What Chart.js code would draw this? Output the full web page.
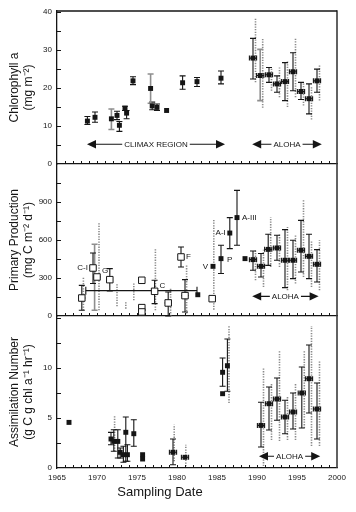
<!DOCTYPE html>
<html>
<head>
<meta charset="utf-8">
<script src="https://cdn.jsdelivr.net/npm/chart.js@4.4.1/dist/chart.umd.min.js"></script>
<style>
  html, body { margin: 0; padding: 0; background: #fff; }
  #wrap { position: relative; width: 356px; height: 512px; }
  #wrap canvas { position: absolute; left: 0; top: 0; }
</style>
</head>
<body>
<div id="wrap">
  <canvas id="c1" width="356" height="512"></canvas>
  <canvas id="c2" width="356" height="512"></canvas>
  <canvas id="c3" width="356" height="512"></canvas>
</div>
<script>
// ================= DATA =================
// --- Panel 1: Chlorophyll a (mg m-2) ---
const chlClimaxYear = [1968.8, 1969.75, 1971.8, 1972.5, 1972.8, 1973.5, 1973.7, 1974.5, 1976.7, 1976.9, 1977.5, 1978.7, 1980.7, 1982.5, 1985.5];
const chlClimax     = [11.3, 12.3, 11.9, 12.8, 10.2, 14.7, 13.4, 21.9, 19.9, 15.3, 14.9, 14.1, 21.4, 21.7, 22.6];
const chlClimaxLo   = [10.4, 11.0, null, 11.7, 8.6, 14.1, 11.9, 20.9, null, 14.3, 14.1, null, 19.7, 20.4, 21.1];
const chlClimaxHi   = [12.5, 13.7, null, 13.9, 11.2, 15.2, 14.1, 23.0, null, 16.3, 15.8, null, 23.2, 22.8, 24.5];
const chlGrayYear   = [1971.8, 1976.7, 1990.4];
const chlGrayLo     = [9.1, 16.0, 16.7];
const chlGrayHi     = [14.5, 23.7, 30.2];
const chlAlohaYear  = [1989.5, 1990.4, 1991.5, 1992.5, 1993.5, 1994.5, 1995.5, 1996.5, 1997.5];
const chlAloha      = [27.9, 23.3, 23.5, 21.1, 21.7, 24.3, 19.1, 17.2, 21.9];
const chlAlohaLo    = [22.4, null, 21.5, 18.9, 16.7, 19.3, 17.0, 13.2, 18.9];
const chlAlohaHi    = [33.1, null, 25.4, 23.2, 26.7, 29.3, 21.5, 21.1, 25.0];
const chlAlohaDotLo = [21.5, 14.8, 19.3, 17.6, 15.0, 17.6, 15.4, 11.7, 16.7];
const chlAlohaDotHi = [38.6, 33.1, 25.4, 25.4, 27.2, 33.2, 21.5, 20.2, 26.3];
const chlArrowFrom  = [1968.75, 1989.4];
const chlArrowTo    = [1986.0, 1998.1];
const chlArrowAt    = [5.2, 5.2];
const chlArrowText  = ['CLIMAX REGION', 'ALOHA'];
const chlTickLabels = [0, 10, 20, 30, 40];

// --- Panel 2: Primary Production (mg C m-2 d-1) ---
const ppOpenYear  = [1968.1, 1969.5, 1970.0, 1971.6, 1975.6, 1975.6, 1975.6, 1977.2, 1978.9, 1980.5, 1981.0, 1984.4];
const ppOpen      = [142, 379, 308, 287, 282, 66, 32, 195, 103, 466, 161, 137];
const ppOpenLo    = [45, 256, null, 197, null, null, null, 98, 0, 387, 32, null];
const ppOpenHi    = [242, 497, null, 374, null, null, null, 282, 190, 545, 287, null];
const ppOpenLabel = ['', 'C-I', 'G', '', '', '', '', 'C', '', 'F', '', ''];
const ppOpenHYear = [1968.1, 1970.0, 1978.9, 1981.0];
const ppOpenHVal  = [142, 308, 103, 161];
const ppGrayYear  = [1969.7];
const ppGrayLo    = [45];
const ppGrayHi    = [566];
const ppDotYear   = [1968.3, 1970.25, 1972.5, 1973.6, 1974.6, 1977.3, 1979.2, 1981.2, 1984.6];
const ppDotLo     = [45, 45, 77, 58, 124, 45, 0, 19, 50];
const ppDotHi     = [308, 742, 250, 110, 256, 532, 216, 400, 761];
const ppFilledYear  = [1982.6, 1984.5, 1985.5, 1986.6, 1987.5];
const ppFilled      = [168, 392, 453, 655, 777];
const ppFilledLo    = [null, null, 335, 532, 558];
const ppFilledHi    = [null, null, 558, 777, 992];
const ppFilledLabel = ['', 'V', 'P', 'A-I', 'A-III'];
const ppMeanFrom = [1968.6];
const ppMeanTo   = [1982.5];
const ppMean     = [200];
const ppAlohaYear  = [1988.5, 1989.5, 1990.5, 1991.4, 1992.5, 1993.5, 1994.5, 1995.5, 1996.5, 1997.5];
const ppAloha      = [453, 445, 392, 526, 537, 440, 440, 519, 471, 408];
const ppAlohaLo    = [null, 361, 308, 400, 440, 224, 295, 347, 295, 268];
const ppAlohaHi    = [null, 513, 493, 645, 637, 682, 598, 755, 645, 524];
const ppAlohaDotLo = [null, 282, 229, 387, 387, 203, 256, 308, 229, 203];
const ppAlohaDotHi = [null, 519, 524, 782, 650, 703, 637, 913, 598, 598];
const ppArrowFrom = [1989.4];
const ppArrowTo   = [1997.7];
const ppArrowAt   = [155];
const ppArrowText = ['ALOHA'];
const ppTickLabels = [0, 300, 600, 900];

// --- Panel 3: Assimilation Number (g C g chl a-1 hr-1) ---
const anHistYear = [1966.5, 1971.75, 1972.1, 1972.6, 1972.9, 1973.3, 1973.6, 1973.8, 1974.6, 1975.7, 1975.7, 1979.5, 1981.0, 1985.7, 1985.7, 1986.3];
const anHist     = [4.56, 2.9, 2.66, 2.66, 1.57, 1.33, 3.57, 1.33, 3.43, 1.33, 0.9, 1.57, 1.07, 9.57, 7.43, 10.23];
const anHistLo   = [null, 2.33, 1.67, 1.0, 1.0, 0.57, 0.67, 0.67, 2.17, null, null, 0.33, null, 8.17, null, 7.67];
const anHistHi   = [null, 3.56, 3.83, 3.83, 2.0, 2.17, 5.1, 2.33, 4.83, null, null, 2.9, null, 11.0, null, 12.9];
const anHistHYear = [1979.5, 1981.0];
const anHistHVal  = [1.57, 1.07];
const anDotYear = [1972.2, 1979.65, 1981.1, 1986.5];
const anDotLo   = [1.67, 0.67, 0.17, 6.5];
const anDotHi   = [5.2, 4.33, 2.33, 14.2];
const anAlohaYear  = [1990.5, 1991.5, 1992.5, 1993.5, 1994.5, 1995.6, 1996.5, 1997.5];
const anAloha      = [4.26, 6.43, 6.9, 5.1, 5.6, 7.5, 8.93, 5.9];
const anAlohaLo    = [2.1, 3.8, 4.77, 3.43, 3.9, 4.0, 5.5, 2.9];
const anAlohaHi    = [6.57, 8.1, 9.0, 6.77, 7.5, 10.1, 12.3, 8.5];
const anAlohaDotLo = [0.2, 2.8, 2.7, 2.8, 2.8, 4.0, 2.2, 2.2];
const anAlohaDotHi = [10.0, 8.5, 11.8, 7.17, 8.4, 11.8, 14.2, 10.7];
const anArrowFrom = [1990.25];
const anArrowTo   = [1997.9];
const anArrowAt   = [1.17];
const anArrowText = ['ALOHA'];
const anTickLabels = [0, 5, 10];

const yearTickLabels = [1965, 1970, 1975, 1980, 1985, 1990, 1995, 2000];

// ================= STYLE =================
const FONT = "'Liberation Sans', Arial, Helvetica, sans-serif";
const INK = '#151515';
const GRAY = '#8e8e8e';
const DOT = '#8a8a8a';
const HALF_YEAR_BAR = 0.45;
const LABEL_POS = {
  'C-I':  { align: 'right', dx: -5, dy: 0 },
  'G':    { align: 'left',  dx: 5,  dy: -6 },
  'C':    { align: 'left',  dx: 5,  dy: -6 },
  'F':    { align: 'left',  dx: 5,  dy: 0 },
  'V':    { align: 'right', dx: -5, dy: 0 },
  'P':    { align: 'left',  dx: 6,  dy: 1 },
  'A-I':  { align: 'right', dx: -4, dy: 0 },
  'A-III':{ align: 'left',  dx: 5,  dy: 0 }
};
const pts = (xs, ys) => xs.map((x, i) => ({ x, y: ys[i] }));
const minus = (xs, d) => xs.map(v => v - d);
const plus = (xs, d) => xs.map(v => v + d);

const filledStyle = { pointStyle: 'rect', pointRadius: 3.5, backgroundColor: INK, borderColor: INK, borderWidth: 0 };
const openStyle = { pointStyle: 'rect', pointRadius: 4.6, backgroundColor: '#fff', borderColor: INK, borderWidth: 1 };
const blackBar = { color: INK, width: 1.1, cap: 3 };
const grayBar = { color: GRAY, width: 1.6, cap: 3 };
const dotBar = { color: DOT, width: 1.6, dash: [1.3, 1.3] };

// ================= PANEL DECOR PLUGIN =================
const PANELS = {};
const panelPlugin = {
  id: 'panelDecor',
  beforeDatasetsDraw(chart) {
    const p = PANELS[chart.canvas.id]; if (!p) return;
    const ctx = chart.ctx, xs = chart.scales.x, ys = chart.scales.y, a = chart.chartArea;
    ctx.save();
    ctx.beginPath(); ctx.rect(a.left, a.top - 1, a.right - a.left, a.bottom - a.top + 2); ctx.clip();
    ctx.lineCap = 'butt';
    for (const b of (p.bars || [])) {
      ctx.strokeStyle = b.color; ctx.lineWidth = b.width;
      b.x.forEach((xv, i) => {
        const lo = b.lo[i], hi = b.hi[i];
        if (lo == null || hi == null) return;
        const x = xs.getPixelForValue(xv) + (b.dx || 0);
        const y1 = ys.getPixelForValue(lo), y2 = ys.getPixelForValue(hi);
        ctx.setLineDash(b.dash || []);
        ctx.beginPath(); ctx.moveTo(x, y1); ctx.lineTo(x, y2); ctx.stroke();
        if (b.cap) {
          ctx.setLineDash([]);
          ctx.beginPath();
          ctx.moveTo(x - b.cap, y1); ctx.lineTo(x + b.cap, y1);
          ctx.moveTo(x - b.cap, y2); ctx.lineTo(x + b.cap, y2);
          ctx.stroke();
        }
      });
    }
    ctx.setLineDash([]);
    for (const h of (p.hbars || [])) {
      ctx.strokeStyle = INK; ctx.lineWidth = 1.1;
      h.from.forEach((f, i) => {
        const y = ys.getPixelForValue(h.y[i]);
        const x1 = xs.getPixelForValue(f), x2 = xs.getPixelForValue(h.to[i]);
        ctx.beginPath();
        if (!h.capsOnly) { ctx.moveTo(x1, y); ctx.lineTo(x2, y); }
        ctx.moveTo(x1, y - h.cap); ctx.lineTo(x1, y + h.cap);
        ctx.moveTo(x2, y - h.cap); ctx.lineTo(x2, y + h.cap);
        ctx.stroke();
      });
    }
    ctx.restore();
  },
  afterDatasetsDraw(chart) {
    const p = PANELS[chart.canvas.id]; if (!p) return;
    const ctx = chart.ctx, xs = chart.scales.x, ys = chart.scales.y;
    ctx.save();
    for (const ar of (p.arrows || [])) {
      ar.from.forEach((f, i) => {
        const x1 = xs.getPixelForValue(f), x2 = xs.getPixelForValue(ar.to[i]);
        const y = ys.getPixelForValue(ar.at[i]);
        const L = 9, H = 4.2;
        ctx.font = '8px ' + FONT;
        const tw = ctx.measureText(ar.text[i]).width;
        const mid = (x1 + x2) / 2;
        ctx.strokeStyle = INK; ctx.fillStyle = INK; ctx.lineWidth = 1.1;
        ctx.beginPath();
        ctx.moveTo(x1 + L - 1, y); ctx.lineTo(mid - tw / 2 - 2, y);
        ctx.moveTo(mid + tw / 2 + 2, y); ctx.lineTo(x2 - L + 1, y);
        ctx.stroke();
        ctx.beginPath(); ctx.moveTo(x1, y); ctx.lineTo(x1 + L, y - H); ctx.lineTo(x1 + L, y + H); ctx.closePath(); ctx.fill();
        ctx.beginPath(); ctx.moveTo(x2, y); ctx.lineTo(x2 - L, y - H); ctx.lineTo(x2 - L, y + H); ctx.closePath(); ctx.fill();
        ctx.textAlign = 'center'; ctx.textBaseline = 'middle';
        ctx.fillText(ar.text[i], mid, y + 0.5);
      });
    }
    for (const lb of (p.labels || [])) {
      ctx.font = '8px ' + FONT; ctx.fillStyle = INK; ctx.textBaseline = 'middle';
      lb.text.forEach((t, i) => {
        if (!t) return;
        const pos = LABEL_POS[t] || { align: 'left', dx: 5, dy: 0 };
        ctx.textAlign = pos.align;
        ctx.fillText(t, xs.getPixelForValue(lb.x[i]) + pos.dx, ys.getPixelForValue(lb.y[i]) + pos.dy);
      });
    }
    ctx.restore();
  },
  afterDraw(chart) {
    const p = PANELS[chart.canvas.id]; if (!p) return;
    const ctx = chart.ctx, xs = chart.scales.x, ys = chart.scales.y, a = chart.chartArea;
    ctx.save();
    ctx.strokeStyle = INK; ctx.lineWidth = 1;
    ctx.beginPath();
    for (let yr = 1966; yr < 2000; yr++) {
      const x = Math.round(xs.getPixelForValue(yr)) + 0.5;
      ctx.moveTo(x, a.bottom); ctx.lineTo(x, a.bottom - 3);
    }
    for (let v = p.yMinor; v < ys.max - 1e-6; v += p.yMinor) {
      const y = Math.round(ys.getPixelForValue(v)) + 0.5;
      ctx.moveTo(a.left, y); ctx.lineTo(a.left + 4, y);
    }
    ctx.stroke();
    ctx.strokeStyle = '#3a3a3a'; ctx.lineWidth = 1.6;
    ctx.beginPath(); ctx.moveTo(a.right, a.top - (p.topBorder ? 0.8 : 0)); ctx.lineTo(a.right, a.bottom); ctx.stroke();
    if (p.topBorder) {
      ctx.strokeStyle = INK; ctx.lineWidth = 1.4;
      ctx.beginPath(); ctx.moveTo(a.left, a.top); ctx.lineTo(a.right, a.top); ctx.stroke();
    }
    if (p.xTitle) {
      ctx.font = '13px ' + FONT; ctx.fillStyle = INK; ctx.textAlign = 'center'; ctx.textBaseline = 'middle';
      ctx.fillText(p.xTitle, p.xTitleX, p.xTitleY);
    }
    ctx.restore();
  }
};

function makeChart(id, o) {
  PANELS[id] = o.panel;
  return new Chart(document.getElementById(id), {
    type: 'scatter',
    data: { datasets: o.datasets },
    options: {
      responsive: false, animation: false, events: [],
      layout: { padding: { top: o.top, bottom: o.bottom, left: 0, right: 19 } },
      plugins: { legend: { display: false }, tooltip: { enabled: false } },
      scales: {
        x: {
          type: 'linear', min: 1965, max: 2000,
          grid: { display: false, drawTicks: false },
          border: { display: true, color: INK, width: 1.3 },
          ticks: {
            display: o.xLabels, padding: 5, autoSkip: false, maxRotation: 0,
            font: { family: FONT, size: 8 }, color: INK,
            callback: v => String(v)
          },
          afterBuildTicks: s => { s.ticks = yearTickLabels.map(v => ({ value: v })); },
          afterFit: s => { s.height = o.xHeight; }
        },
        y: {
          type: 'linear', min: 0, max: o.ymax,
          grid: { display: false, drawTicks: false },
          border: { display: true, color: INK, width: 1.3 },
          ticks: {
            padding: 5, autoSkip: false,
            font: { family: FONT, size: 8 }, color: INK,
            callback: v => String(v)
          },
          afterBuildTicks: s => { s.ticks = o.yLabels.map(v => ({ value: v })); },
          title: {
            display: true, text: o.ytitle, color: INK,
            font: { family: FONT, size: 12, lineHeight: 1.15 },
            padding: { top: 8, bottom: 0 }
          },
          afterFit: s => { s.width = 57; }
        }
      }
    },
    plugins: [panelPlugin]
  });
}

// ---- Chart 1: Chlorophyll a ----
makeChart('c1', {
  top: 11, bottom: 348, xHeight: 0, xLabels: false,
  ymax: 40.3, yLabels: chlTickLabels,
  ytitle: ['Chlorophyll a', '(mg m\u207B\u00B2)'],
  datasets: [
    Object.assign({ label: 'Climax region', data: pts(chlClimaxYear, chlClimax) }, filledStyle),
    Object.assign({ label: 'ALOHA', data: pts(chlAlohaYear, chlAloha) }, filledStyle)
  ],
  panel: {
    topBorder: true, yMinor: 5,
    bars: [
      Object.assign({ x: chlAlohaYear, lo: chlAlohaDotLo, hi: chlAlohaDotHi, dx: 2.5 }, dotBar),
      Object.assign({ x: chlClimaxYear, lo: chlClimaxLo, hi: chlClimaxHi }, blackBar),
      Object.assign({ x: chlGrayYear, lo: chlGrayLo, hi: chlGrayHi }, grayBar),
      Object.assign({ x: chlAlohaYear, lo: chlAlohaLo, hi: chlAlohaHi }, blackBar)
    ],
    hbars: [
      { from: minus(chlAlohaYear, HALF_YEAR_BAR), to: plus(chlAlohaYear, HALF_YEAR_BAR), y: chlAloha, cap: 2.5 }
    ],
    arrows: [{ from: chlArrowFrom, to: chlArrowTo, at: chlArrowAt, text: chlArrowText }]
  }
});

// ---- Chart 2: Primary Production ----
makeChart('c2', {
  top: 164, bottom: 196, xHeight: 0, xLabels: false,
  ymax: 1200, yLabels: ppTickLabels,
  ytitle: ['Primary Production', '(mg C m\u207B\u00B2 d\u207B\u00B9)'],
  datasets: [
    Object.assign({ label: 'Historical (open)', data: pts(ppOpenYear, ppOpen), order: 1 }, openStyle),
    Object.assign({ label: 'Historical (filled)', data: pts(ppFilledYear, ppFilled), order: 1 }, filledStyle),
    Object.assign({ label: 'ALOHA', data: pts(ppAlohaYear, ppAloha), order: 1 }, filledStyle),
    { type: 'line', label: 'Climax mean', order: 5,
      data: [{ x: ppMeanFrom[0], y: ppMean[0] }, { x: ppMeanTo[0], y: ppMean[0] }],
      borderColor: INK, borderWidth: 1.2, pointRadius: 0, showLine: true, fill: false }
  ],
  panel: {
    topBorder: false, yMinor: 150,
    bars: [
      Object.assign({ x: ppDotYear, lo: ppDotLo, hi: ppDotHi }, dotBar),
      Object.assign({ x: ppAlohaYear, lo: ppAlohaDotLo, hi: ppAlohaDotHi, dx: 2.5 }, dotBar),
      Object.assign({ x: ppGrayYear, lo: ppGrayLo, hi: ppGrayHi }, grayBar),
      Object.assign({ x: ppOpenYear, lo: ppOpenLo, hi: ppOpenHi }, blackBar),
      Object.assign({ x: ppFilledYear, lo: ppFilledLo, hi: ppFilledHi }, blackBar),
      Object.assign({ x: ppAlohaYear, lo: ppAlohaLo, hi: ppAlohaHi }, blackBar)
    ],
    hbars: [
      { from: minus(ppAlohaYear.slice(1), HALF_YEAR_BAR), to: plus(ppAlohaYear.slice(1), HALF_YEAR_BAR), y: ppAloha.slice(1), cap: 2.5 },
      { from: minus(ppOpenHYear, HALF_YEAR_BAR), to: plus(ppOpenHYear, HALF_YEAR_BAR), y: ppOpenHVal, cap: 0 },
      { from: ppMeanFrom, to: ppMeanTo, y: ppMean, cap: 4, capsOnly: true }
    ],
    arrows: [{ from: ppArrowFrom, to: ppArrowTo, at: ppArrowAt, text: ppArrowText }],
    labels: [
      { x: ppOpenYear, y: ppOpen, text: ppOpenLabel },
      { x: ppFilledYear, y: ppFilled, text: ppFilledLabel }
    ]
  }
});

// ---- Chart 3: Assimilation Number ----
makeChart('c3', {
  top: 316, bottom: 24, xHeight: 20, xLabels: true,
  ymax: 15.2, yLabels: anTickLabels,
  ytitle: ['Assimilation Number', '(g C g chl a\u207B\u00B9 hr\u207B\u00B9)'],
  datasets: [
    Object.assign({ label: 'Historical', data: pts(anHistYear, anHist) }, filledStyle),
    Object.assign({ label: 'ALOHA', data: pts(anAlohaYear, anAloha) }, filledStyle)
  ],
  panel: {
    topBorder: false, yMinor: 2.5,
    xTitle: 'Sampling Date', xTitleX: 160, xTitleY: 492,
    bars: [
      Object.assign({ x: anDotYear, lo: anDotLo, hi: anDotHi }, dotBar),
      Object.assign({ x: anAlohaYear, lo: anAlohaDotLo, hi: anAlohaDotHi, dx: 2.5 }, dotBar),
      Object.assign({ x: anHistYear, lo: anHistLo, hi: anHistHi }, blackBar),
      Object.assign({ x: anAlohaYear, lo: anAlohaLo, hi: anAlohaHi }, blackBar)
    ],
    hbars: [
      { from: minus(anAlohaYear, HALF_YEAR_BAR), to: plus(anAlohaYear, HALF_YEAR_BAR), y: anAloha, cap: 2.5 },
      { from: minus(anHistHYear, HALF_YEAR_BAR), to: plus(anHistHYear, HALF_YEAR_BAR), y: anHistHVal, cap: 2.5 }
    ],
    arrows: [{ from: anArrowFrom, to: anArrowTo, at: anArrowAt, text: anArrowText }]
  }
});
</script>
</body>
</html>
